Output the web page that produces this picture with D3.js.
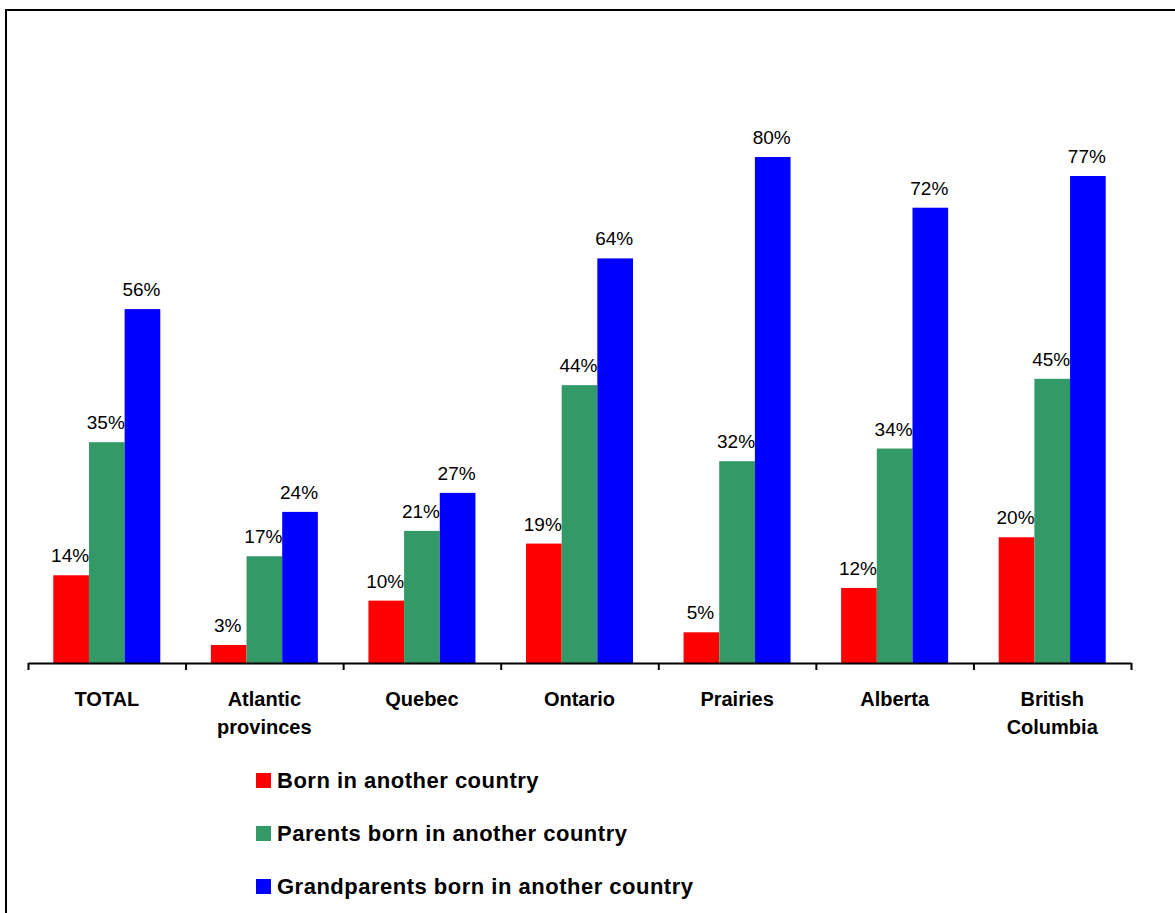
<!DOCTYPE html>
<html>
<head>
  <title>Born in another country</title>
  <style>
    body { margin: 0; background: #fff; }
    text { font-family: Arial, "Liberation Sans", sans-serif; fill: #000; }
    .value { font-size: 19px; }
    .cat { font-size: 20px; font-weight: bold; }
    .legend { font-size: 22px; font-weight: bold; letter-spacing: 0.5px; }
  </style>
</head>
<body>
  <svg id="chart" width="1175" height="913"></svg>

  <script src="https://d3js.org/d3.v7.min.js"></script>
  <script>
    // data
    const categories = ["TOTAL", "Atlantic\nprovinces", "Quebec", "Ontario", "Prairies", "Alberta", "British\nColumbia"];
    const seriesNames = ["Born in another country", "Parents born in another country", "Grandparents born in another country"];
    const born = [14, 3, 10, 19, 5, 12, 20];
    const parents = [35, 17, 21, 44, 32, 34, 45];
    const grandparents = [56, 24, 27, 64, 80, 72, 77];
    const colors = ["#ff0000", "#339966", "#0000ff"];

    const seriesValues = [born, parents, grandparents];
    const rows = categories.map((c, i) => ({
      cat: c,
      values: seriesValues.map((s, j) => ({ key: seriesNames[j], value: s[i], color: colors[j] }))
    }));

    const width = 1175;
    const height = 913;
    const left = 28, right = 1131;
    const baseline = 664;

    const svg = d3.select("#chart")
                  .attr("width", width)
                  .attr("height", height);

    // outer frame (runs off the right and bottom edges)
    svg.append("rect")
       .attr("x", 6).attr("y", 10)
       .attr("width", 1200).attr("height", 1000)
       .attr("fill", "none")
       .attr("stroke", "#000")
       .attr("stroke-width", 2);

    // scales
    const x0 = d3.scaleBand()
                 .domain(categories)
                 .range([left, right])
                 .padding(0);

    const groupW = 107;
    const x1 = d3.scaleBand()
                 .domain(seriesNames)
                 .range([(x0.bandwidth() - groupW) / 2, (x0.bandwidth() + groupW) / 2]);

    const y = d3.scaleLinear()
                .domain([0, 80])
                .range([baseline, 157]);

    // bars
    const groups = svg.selectAll(".group")
                      .data(rows)
                      .enter().append("g")
                      .attr("class", "group")
                      .attr("transform", d => `translate(${x0(d.cat)},0)`);

    groups.selectAll("rect")
          .data(d => d.values)
          .enter().append("rect")
          .attr("x", d => x1(d.key))
          .attr("y", d => y(d.value))
          .attr("width", x1.bandwidth())
          .attr("height", d => baseline - y(d.value))
          .attr("fill", d => d.color);

    groups.selectAll(".value")
          .data(d => d.values)
          .enter().append("text")
          .attr("class", "value")
          .attr("x", d => x1(d.key) + x1.bandwidth() / 2 - 1)
          .attr("y", d => y(d.value) - 13)
          .attr("text-anchor", "middle")
          .text(d => d.value + "%");

    // x axis: ticks on the category boundaries
    const xb = d3.scaleLinear().domain([0, categories.length]).range([left, right]);
    const axis = svg.append("g")
                    .attr("transform", `translate(0,${baseline - 1})`)
                    .call(d3.axisBottom(xb)
                            .ticks(categories.length)
                            .tickSize(7)
                            .tickSizeOuter(0)
                            .tickFormat(""));
    axis.select(".domain").attr("stroke", "#000").attr("stroke-width", 2);
    axis.selectAll(".tick line").attr("stroke", "#000").attr("stroke-width", 2);

    // category labels
    svg.selectAll(".cat")
       .data(categories)
       .enter().append("text")
       .attr("class", "cat")
       .attr("text-anchor", "middle")
       .attr("x", d => x0(d) + x0.bandwidth() / 2)
       .attr("y", 706)
       .selectAll("tspan")
       .data(d => d.split("\n"))
       .enter().append("tspan")
       .attr("x", function () { return this.parentNode.getAttribute("x"); })
       .attr("dy", (d, i) => i === 0 ? 0 : 28)
       .text(d => d);

    // legend
    const legend = svg.selectAll(".leg")
                      .data(seriesNames)
                      .enter().append("g")
                      .attr("class", "leg")
                      .attr("transform", (d, i) => `translate(256,${773 + i * 53})`);

    legend.append("rect")
          .attr("width", 15)
          .attr("height", 15)
          .attr("fill", (d, i) => colors[i]);

    legend.append("text")
          .attr("class", "legend")
          .attr("x", 21)
          .attr("y", 15)
          .text(d => d);
  </script>
</body>
</html>
